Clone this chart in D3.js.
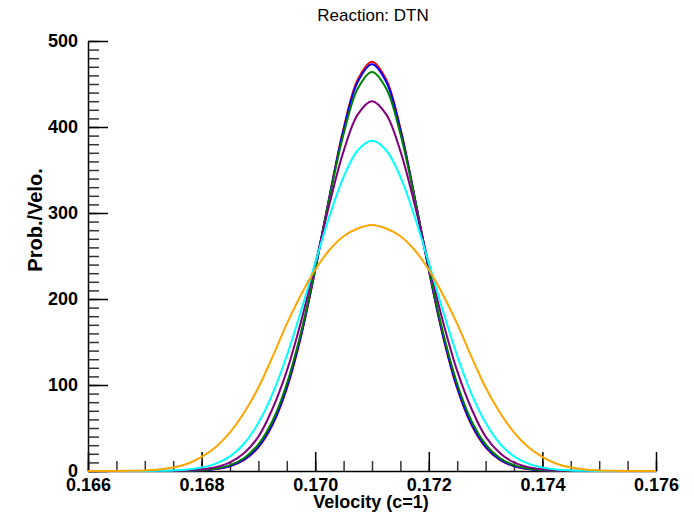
<!DOCTYPE html>
<html>
<head>
<meta charset="utf-8">
<script src="https://cdn.jsdelivr.net/npm/d3@7"></script>
<style>
    body { margin: 0; background: #fff; }
    svg { display: block; }
</style>
</head>
<body>
<div id="chart"></div>
<script>
// velocity grid (c=1)
const velocity = [0.166, 0.16625, 0.1665, 0.16675, 0.167, 0.16725, 0.1675, 0.16775, 0.168, 0.16825,
    0.1685, 0.16875, 0.169, 0.16925, 0.1695, 0.16975, 0.170, 0.17025, 0.1705, 0.17075,
    0.171, 0.17125, 0.1715, 0.17175, 0.172, 0.17225, 0.1725, 0.17275, 0.173, 0.17325,
    0.1735, 0.17375, 0.174, 0.17425, 0.1745, 0.17475, 0.175, 0.17525, 0.1755, 0.17575, 0.176];

// Prob./Velo. for each curve
const redVals = [0, 0, 0, 0, 0, 0, 0.08, 0.26, 0.79, 2.18, 5.56, 12.95, 27.6, 53.8, 95.9, 156.5, 233.6, 318.9, 398.4, 455.3,
    476, 455.3, 398.4, 318.9, 233.6, 156.5, 95.9, 53.8, 27.6, 12.95, 5.56, 2.18, 0.79, 0.26, 0.08, 0, 0, 0, 0, 0, 0];
const blueVals = [0, 0, 0, 0, 0, 0, 0.09, 0.28, 0.84, 2.3, 5.8, 13.4, 28.4, 54.8, 97.2, 157.6, 234, 318.4, 396.7, 452.7,
    473, 452.7, 396.7, 318.4, 234, 157.6, 97.2, 54.8, 28.4, 13.4, 5.8, 2.3, 0.84, 0.28, 0.09, 0, 0, 0, 0, 0, 0];
const greenVals = [0, 0, 0, 0, 0, 0.03, 0.12, 0.37, 1.06, 2.8, 6.8, 15.1, 31.1, 58.5, 101.4, 161.3, 236, 317.2, 391.8, 444.8,
    464, 444.8, 391.8, 317.2, 236, 161.3, 101.4, 58.5, 31.1, 15.1, 6.8, 2.8, 1.06, 0.37, 0.12, 0.03, 0, 0, 0, 0, 0];
const purpleVals = [0, 0, 0, 0, 0, 0.08, 0.25, 0.7, 1.9, 4.5, 10, 21, 40, 72.7, 116.4, 173.6, 240.6, 310.2, 371.9, 414.7,
    430, 414.7, 371.9, 310.2, 240.6, 173.6, 116.4, 72.7, 40, 21, 10, 4.5, 1.9, 0.7, 0.25, 0.08, 0, 0, 0, 0, 0];
const cyanVals = [0, 0, 0, 0, 0.08, 0.25, 0.7, 1.7, 4, 8.5, 17, 32, 56, 90, 134, 186, 242, 296, 342, 373,
    384, 373, 342, 296, 242, 186, 134, 90, 56, 32, 17, 8.5, 4, 1.7, 0.7, 0.25, 0.08, 0, 0, 0, 0];
const orangeVals = [0, 0, 0.05, 0.25, 0.7, 1.7, 4, 8.5, 16.5, 28, 45, 68, 97, 133, 171, 205, 234, 257, 273, 282,
    286, 282, 273, 257, 234, 205, 171, 133, 97, 68, 45, 28, 16.5, 8.5, 4, 1.7, 0.7, 0.25, 0.05, 0, 0];

const xTicks = [0.166, 0.168, 0.170, 0.172, 0.174, 0.176];
const yTicks = [0, 100, 200, 300, 400, 500];

const series = [
    { color: "#ff0000", values: redVals },
    { color: "#0000ff", values: blueVals },
    { color: "#008000", values: greenVals },
    { color: "#800080", values: purpleVals },
    { color: "#00ffff", values: cyanVals },
    { color: "#ffa500", values: orangeVals }
];

const width = 694;
const height = 514;
const font = "'Liberation Sans', Arial, Helvetica, sans-serif";

const x = d3.scaleLinear().domain([0.166, 0.176]).range([88, 656]);
const y = d3.scaleLinear().domain([0, 500]).range([471, 41]);

const svg = d3.select("#chart")
    .append("svg")
    .attr("width", width)
    .attr("height", height);

// minor ticks
svg.append("g")
    .attr("transform", "translate(0,471)")
    .call(d3.axisBottom(x).ticks(20).tickSize(-10).tickSizeOuter(0).tickFormat(""))
    .call(g => g.select(".domain").remove())
    .selectAll("line").attr("stroke", "#333").attr("stroke-width", 1.5);

svg.append("g")
    .attr("transform", "translate(88,0)")
    .call(d3.axisLeft(y).ticks(50).tickSize(-11).tickSizeOuter(0).tickFormat(""))
    .call(g => g.select(".domain").remove())
    .selectAll("line").attr("stroke", "#333").attr("stroke-width", 1.5);

// major ticks and labels
const xAxis = svg.append("g")
    .attr("transform", "translate(0,471)")
    .call(d3.axisBottom(x).tickValues(xTicks).tickSize(-19).tickSizeOuter(0).tickPadding(7).tickFormat(d3.format(".3f")));

const yAxis = svg.append("g")
    .attr("transform", "translate(88,0)")
    .call(d3.axisLeft(y).tickValues(yTicks).tickSize(-20).tickSizeOuter(0).tickPadding(10).tickFormat(d3.format("d")));

[xAxis, yAxis].forEach(g => {
    g.select(".domain").attr("stroke", "#000").attr("stroke-width", 1.5);
    g.selectAll("line").attr("stroke", "#000").attr("stroke-width", 1.5);
    g.selectAll("text")
        .attr("fill", "#000")
        .style("font-family", font)
        .style("font-size", "18px")
        .style("font-weight", "bold");
});

// curves
const line = d3.line()
    .x((d, i) => x(velocity[i]))
    .y(d => y(Math.max(d, 0)))
    .curve(d3.curveCatmullRom.alpha(0.5));

svg.append("g")
    .selectAll("path")
    .data(series)
    .enter()
    .append("path")
    .attr("fill", "none")
    .attr("stroke", d => d.color)
    .attr("stroke-width", 2)
    .attr("d", d => line(d.values));

// titles
svg.append("text")
    .attr("x", 373)
    .attr("y", 21)
    .attr("text-anchor", "middle")
    .style("font-family", font)
    .style("font-size", "17px")
    .text("Reaction: DTN");

svg.append("text")
    .attr("x", 371)
    .attr("y", 508)
    .attr("text-anchor", "middle")
    .style("font-family", font)
    .style("font-size", "18px")
    .style("font-weight", "bold")
    .text("Velocity (c=1)");

svg.append("text")
    .attr("transform", "translate(42,220) rotate(-90)")
    .attr("text-anchor", "middle")
    .style("font-family", font)
    .style("font-size", "20px")
    .style("font-weight", "bold")
    .text("Prob./Velo.");
</script>
</body>
</html>
